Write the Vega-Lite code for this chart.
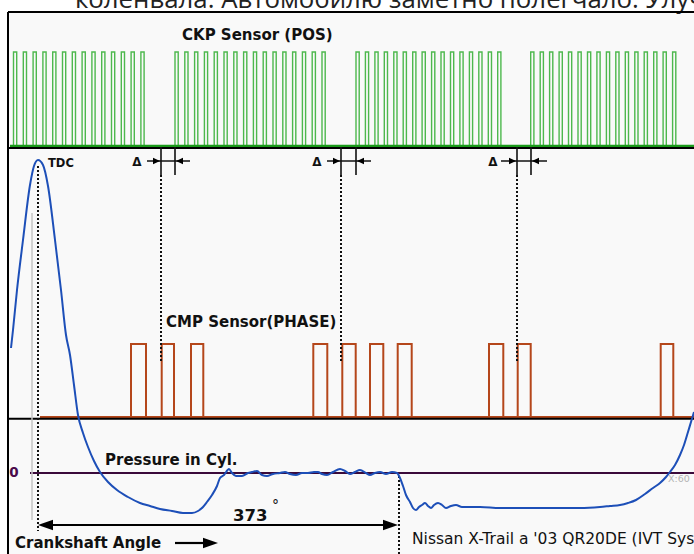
{
  "$schema": "https://vega.github.io/schema/vega-lite/v6.json",
  "width": 694,
  "height": 554,
  "padding": 0,
  "autosize": {"type": "none"},
  "background": "white",
  "config": {"view": {"stroke": null}},
  "encoding": {
    "x": {"field": "x", "type": "quantitative", "scale": {"domain": [0, 694], "nice": false, "zero": false}, "axis": null},
    "y": {"field": "y", "type": "quantitative", "scale": {"domain": [0, 554], "nice": false, "zero": false, "reverse": true}, "axis": null}
  },
  "layer": [
    {
      "data": {"values": [{"x": 8, "x2": 694, "y": 12, "y2": 554}]},
      "mark": {"type": "rect", "fill": "#f9f9f9"},
      "encoding": {"x2": {"field": "x2"}, "y2": {"field": "y2"}}
    },
    {
      "data": {"values": [{"x": 75, "y": 7.5, "t": "коленвала. Автомобилю заметно полегчало. Улучшилась"}]},
      "mark": {"type": "text", "align": "left", "baseline": "alphabetic", "font": "Open Sans", "fontSize": 25.8, "color": "#222222"},
      "encoding": {"text": {"field": "t"}}
    },
    {
      "data": {"values": [
        {"x": 13.5, "x2": 16.7, "y": 52, "y2": 146}, {"x": 23.3, "x2": 26.5, "y": 52, "y2": 146}, {"x": 33.1, "x2": 36.3, "y": 52, "y2": 146}, {"x": 42.9, "x2": 46.1, "y": 52, "y2": 146}, {"x": 52.7, "x2": 55.9, "y": 52, "y2": 146}, {"x": 62.5, "x2": 65.7, "y": 52, "y2": 146}, {"x": 72.3, "x2": 75.5, "y": 52, "y2": 146}, {"x": 82.1, "x2": 85.3, "y": 52, "y2": 146}, {"x": 91.9, "x2": 95.1, "y": 52, "y2": 146}, {"x": 101.7, "x2": 104.9, "y": 52, "y2": 146}, {"x": 111.5, "x2": 114.7, "y": 52, "y2": 146}, {"x": 121.3, "x2": 124.5, "y": 52, "y2": 146}, {"x": 131.1, "x2": 134.3, "y": 52, "y2": 146}, {"x": 140.9, "x2": 144.1, "y": 52, "y2": 146},
        {"x": 175, "x2": 178.2, "y": 52, "y2": 146}, {"x": 184.8, "x2": 188, "y": 52, "y2": 146}, {"x": 194.6, "x2": 197.8, "y": 52, "y2": 146}, {"x": 204.4, "x2": 207.6, "y": 52, "y2": 146}, {"x": 214.2, "x2": 217.4, "y": 52, "y2": 146}, {"x": 224, "x2": 227.2, "y": 52, "y2": 146}, {"x": 233.8, "x2": 237, "y": 52, "y2": 146}, {"x": 243.6, "x2": 246.8, "y": 52, "y2": 146}, {"x": 253.4, "x2": 256.6, "y": 52, "y2": 146}, {"x": 263.2, "x2": 266.4, "y": 52, "y2": 146}, {"x": 273, "x2": 276.2, "y": 52, "y2": 146}, {"x": 282.8, "x2": 286, "y": 52, "y2": 146}, {"x": 292.6, "x2": 295.8, "y": 52, "y2": 146}, {"x": 302.4, "x2": 305.6, "y": 52, "y2": 146}, {"x": 312.2, "x2": 315.4, "y": 52, "y2": 146}, {"x": 322, "x2": 325.2, "y": 52, "y2": 146},
        {"x": 356, "x2": 359.2, "y": 52, "y2": 146}, {"x": 365.4, "x2": 368.6, "y": 52, "y2": 146}, {"x": 374.9, "x2": 378.1, "y": 52, "y2": 146}, {"x": 384.3, "x2": 387.5, "y": 52, "y2": 146}, {"x": 393.8, "x2": 397, "y": 52, "y2": 146}, {"x": 403.2, "x2": 406.4, "y": 52, "y2": 146}, {"x": 412.7, "x2": 415.9, "y": 52, "y2": 146}, {"x": 422.1, "x2": 425.3, "y": 52, "y2": 146}, {"x": 431.6, "x2": 434.8, "y": 52, "y2": 146}, {"x": 441, "x2": 444.2, "y": 52, "y2": 146}, {"x": 450.5, "x2": 453.7, "y": 52, "y2": 146}, {"x": 459.9, "x2": 463.1, "y": 52, "y2": 146}, {"x": 469.4, "x2": 472.6, "y": 52, "y2": 146}, {"x": 478.8, "x2": 482, "y": 52, "y2": 146}, {"x": 488.3, "x2": 491.5, "y": 52, "y2": 146}, {"x": 497.7, "x2": 500.9, "y": 52, "y2": 146},
        {"x": 530.7, "x2": 533.9, "y": 52, "y2": 146}, {"x": 540.2, "x2": 543.4, "y": 52, "y2": 146}, {"x": 549.6, "x2": 552.8, "y": 52, "y2": 146}, {"x": 559.1, "x2": 562.3, "y": 52, "y2": 146}, {"x": 568.5, "x2": 571.7, "y": 52, "y2": 146}, {"x": 578, "x2": 581.2, "y": 52, "y2": 146}, {"x": 587.5, "x2": 590.7, "y": 52, "y2": 146}, {"x": 596.9, "x2": 600.1, "y": 52, "y2": 146}, {"x": 606.4, "x2": 609.6, "y": 52, "y2": 146}, {"x": 615.8, "x2": 619, "y": 52, "y2": 146}, {"x": 625.3, "x2": 628.5, "y": 52, "y2": 146}, {"x": 634.8, "x2": 638, "y": 52, "y2": 146}, {"x": 644.2, "x2": 647.4, "y": 52, "y2": 146}, {"x": 653.7, "x2": 656.9, "y": 52, "y2": 146}, {"x": 663.1, "x2": 666.3, "y": 52, "y2": 146}, {"x": 672.6, "x2": 675.8, "y": 52, "y2": 146}
      ]},
      "mark": {"type": "rect", "fill": "#f9f9f9", "stroke": "#4db84d", "strokeWidth": 1.4},
      "encoding": {"x2": {"field": "x2"}, "y2": {"field": "y2"}}
    },
    {
      "data": {"values": [{"x": 10, "x2": 694, "y": 146, "y2": 146}]},
      "mark": {"type": "rule", "stroke": "#1a9a1a", "strokeWidth": 2.5},
      "encoding": {"x2": {"field": "x2"}, "y2": {"field": "y2"}}
    },
    {
      "data": {"values": [
        {"x": 131, "x2": 146, "y": 344, "y2": 417}, {"x": 161.7, "x2": 174, "y": 344, "y2": 417}, {"x": 191, "x2": 203.3, "y": 344, "y2": 417}, {"x": 313.3, "x2": 327.3, "y": 344, "y2": 417}, {"x": 342.3, "x2": 355.7, "y": 344, "y2": 417},
        {"x": 370, "x2": 383.3, "y": 344, "y2": 417}, {"x": 397.7, "x2": 411.7, "y": 344, "y2": 417}, {"x": 489, "x2": 503.3, "y": 344, "y2": 417}, {"x": 517.7, "x2": 530.7, "y": 344, "y2": 417}, {"x": 660.7, "x2": 673.3, "y": 344, "y2": 417}
      ]},
      "mark": {"type": "rect", "fill": "#f9f9f9", "stroke": "#b5471b", "strokeWidth": 2},
      "encoding": {"x2": {"field": "x2"}, "y2": {"field": "y2"}}
    },
    {
      "data": {"values": [{"x": 40, "x2": 694, "y": 417, "y2": 417}]},
      "mark": {"type": "rule", "stroke": "#b5471b", "strokeWidth": 2},
      "encoding": {"x2": {"field": "x2"}, "y2": {"field": "y2"}}
    },
    {
      "data": {"values": [
        {"x": 8, "x2": 694, "y": 12, "y2": 12},
        {"x": 8, "x2": 8, "y": 12, "y2": 554},
        {"x": 8, "x2": 694, "y": 148, "y2": 148},
        {"x": 8, "x2": 694, "y": 418.7, "y2": 418.7}
      ]},
      "mark": {"type": "rule", "stroke": "#000000", "strokeWidth": 2},
      "encoding": {"x2": {"field": "x2"}, "y2": {"field": "y2"}}
    },
    {
      "data": {"values": [{"x": 30, "x2": 694, "y": 473, "y2": 473}]},
      "mark": {"type": "rule", "stroke": "#3a0a3a", "strokeWidth": 2},
      "encoding": {"x2": {"field": "x2"}, "y2": {"field": "y2"}}
    },
    {
      "data": {"values": [{"x": 32, "x2": 32, "y": 213, "y2": 520}]},
      "mark": {"type": "rule", "stroke": "#c4c4c4", "strokeWidth": 1.5},
      "encoding": {"x2": {"field": "x2"}, "y2": {"field": "y2"}}
    },
    {
      "data": {"values": [
        {"x": 161, "x2": 161, "y": 147, "y2": 175}, {"x": 175, "x2": 175, "y": 147, "y2": 175},
        {"x": 341, "x2": 341, "y": 147, "y2": 175}, {"x": 356, "x2": 356, "y": 147, "y2": 175},
        {"x": 517, "x2": 517, "y": 147, "y2": 175}, {"x": 531, "x2": 531, "y": 147, "y2": 175},
        {"x": 147, "x2": 190, "y": 161, "y2": 161}, {"x": 327, "x2": 371, "y": 161, "y2": 161}, {"x": 501, "x2": 547, "y": 161, "y2": 161}
      ]},
      "mark": {"type": "rule", "stroke": "#111111", "strokeWidth": 1.6},
      "encoding": {"x2": {"field": "x2"}, "y2": {"field": "y2"}}
    },
    {
      "data": {"values": [
        {"x": 38, "x2": 38, "y": 166, "y2": 531},
        {"x": 161, "x2": 161, "y": 175, "y2": 363},
        {"x": 341, "x2": 341, "y": 175, "y2": 363},
        {"x": 517, "x2": 517, "y": 175, "y2": 362},
        {"x": 399, "x2": 399, "y": 476, "y2": 554}
      ]},
      "mark": {"type": "rule", "stroke": "#111111", "strokeWidth": 2, "strokeDash": [2, 2]},
      "encoding": {"x2": {"field": "x2"}, "y2": {"field": "y2"}}
    },
    {
      "data": {"values": [{"x": 45, "x2": 390, "y": 525, "y2": 525}, {"x": 175, "x2": 205, "y": 543, "y2": 543}]},
      "mark": {"type": "rule", "stroke": "#000000", "strokeWidth": 2.2},
      "encoding": {"x2": {"field": "x2"}, "y2": {"field": "y2"}}
    },
    {
      "data": {"values": [{"x": 160, "y": 161}, {"x": 340, "y": 161}, {"x": 516, "y": 161}]},
      "mark": {"type": "point", "shape": "M0,0L-1,-0.45L-1,0.45Z", "size": 196, "filled": true, "color": "#000000", "opacity": 1}
    },
    {
      "data": {"values": [{"x": 176, "y": 161}, {"x": 357, "y": 161}, {"x": 532, "y": 161}]},
      "mark": {"type": "point", "shape": "M0,0L1,-0.45L1,0.45Z", "size": 196, "filled": true, "color": "#000000", "opacity": 1}
    },
    {
      "data": {"values": [{"x": 38, "y": 525}]},
      "mark": {"type": "point", "shape": "M0,0L1,-0.35L1,0.35Z", "size": 900, "filled": true, "color": "#000000", "opacity": 1}
    },
    {
      "data": {"values": [{"x": 398, "y": 525}, {"x": 218, "y": 543}]},
      "mark": {"type": "point", "shape": "M0,0L-1,-0.35L-1,0.35Z", "size": 900, "filled": true, "color": "#000000", "opacity": 1}
    },
    {
      "data": {"values": [
        {"x": 11, "y": 348}, {"x": 13, "y": 330}, {"x": 17, "y": 290}, {"x": 23, "y": 240}, {"x": 30, "y": 185}, {"x": 34, "y": 166}, {"x": 38, "y": 160}, {"x": 43, "y": 165}, {"x": 48, "y": 186}, {"x": 55, "y": 240}, {"x": 61, "y": 290}, {"x": 66, "y": 335},
        {"x": 70, "y": 355}, {"x": 74, "y": 385}, {"x": 78, "y": 415}, {"x": 83, "y": 433}, {"x": 88, "y": 447}, {"x": 94, "y": 461}, {"x": 100, "y": 472}, {"x": 108, "y": 482}, {"x": 117, "y": 490}, {"x": 128, "y": 497}, {"x": 140, "y": 503}, {"x": 150, "y": 506},
        {"x": 160, "y": 509}, {"x": 172, "y": 511}, {"x": 183, "y": 513}, {"x": 192, "y": 513}, {"x": 198, "y": 511}, {"x": 203, "y": 507}, {"x": 207, "y": 502}, {"x": 212, "y": 495}, {"x": 217, "y": 486}, {"x": 220, "y": 478}, {"x": 224, "y": 475}, {"x": 229, "y": 469},
        {"x": 232, "y": 473}, {"x": 236, "y": 476}, {"x": 242, "y": 476}, {"x": 248, "y": 473}, {"x": 252, "y": 472}, {"x": 257, "y": 471}, {"x": 262, "y": 475}, {"x": 267, "y": 476}, {"x": 273, "y": 474}, {"x": 280, "y": 473}, {"x": 285, "y": 472}, {"x": 290, "y": 474},
        {"x": 296, "y": 475}, {"x": 302, "y": 473}, {"x": 308, "y": 473}, {"x": 314, "y": 472}, {"x": 318, "y": 472}, {"x": 322, "y": 474}, {"x": 327, "y": 475}, {"x": 333, "y": 472}, {"x": 340, "y": 469}, {"x": 345, "y": 471}, {"x": 350, "y": 474}, {"x": 355, "y": 472},
        {"x": 360, "y": 470}, {"x": 366, "y": 473}, {"x": 370, "y": 475}, {"x": 375, "y": 473}, {"x": 380, "y": 472}, {"x": 386, "y": 474}, {"x": 392, "y": 472}, {"x": 397, "y": 473}, {"x": 400, "y": 478}, {"x": 403, "y": 486}, {"x": 406, "y": 495}, {"x": 410, "y": 502},
        {"x": 413, "y": 508}, {"x": 416, "y": 510}, {"x": 419, "y": 507}, {"x": 422, "y": 505}, {"x": 425, "y": 503}, {"x": 428, "y": 506}, {"x": 431, "y": 508}, {"x": 434, "y": 505}, {"x": 438, "y": 503}, {"x": 442, "y": 505}, {"x": 446, "y": 508}, {"x": 451, "y": 506},
        {"x": 456, "y": 505}, {"x": 462, "y": 507}, {"x": 470, "y": 507}, {"x": 480, "y": 507}, {"x": 500, "y": 508}, {"x": 520, "y": 508}, {"x": 540, "y": 508}, {"x": 560, "y": 508}, {"x": 580, "y": 508}, {"x": 600, "y": 507}, {"x": 610, "y": 506}, {"x": 620, "y": 505},
        {"x": 628, "y": 503}, {"x": 636, "y": 500}, {"x": 645, "y": 494}, {"x": 653, "y": 488}, {"x": 660, "y": 483}, {"x": 666, "y": 477}, {"x": 670, "y": 472}, {"x": 675, "y": 465}, {"x": 680, "y": 455}, {"x": 684, "y": 445}, {"x": 688, "y": 432}, {"x": 691, "y": 422}, {"x": 694, "y": 412}
      ]},
      "mark": {"type": "line", "stroke": "#1d4fb8", "strokeWidth": 2, "interpolate": "monotone"},
      "encoding": {"order": {"value": null}}
    },
    {
      "data": {"values": [
        {"x": 182, "y": 35, "t": "CKP Sensor (POS)"},
        {"x": 166, "y": 322, "t": "CMP Sensor(PHASE)"},
        {"x": 105, "y": 460, "t": "Pressure in Cyl."},
        {"x": 15, "y": 543, "t": "Crankshaft Angle"}
      ]},
      "mark": {"type": "text", "align": "left", "baseline": "middle", "font": "DejaVu Sans", "fontWeight": "bold", "fontSize": 15, "color": "#111111"},
      "encoding": {"text": {"field": "t"}}
    },
    {
      "data": {"values": [{"x": 233, "y": 516, "t": "373"}]},
      "mark": {"type": "text", "align": "left", "baseline": "middle", "font": "DejaVu Sans", "fontWeight": "bold", "fontSize": 16.5, "color": "#111111"},
      "encoding": {"text": {"field": "t"}}
    },
    {
      "data": {"values": [{"x": 272, "y": 506, "t": "°"}]},
      "mark": {"type": "text", "align": "left", "baseline": "middle", "font": "DejaVu Sans", "fontSize": 14, "color": "#111111"},
      "encoding": {"text": {"field": "t"}}
    },
    {
      "data": {"values": [{"x": 48, "y": 164, "t": "TDC"}]},
      "mark": {"type": "text", "align": "left", "baseline": "middle", "font": "DejaVu Sans", "fontWeight": "bold", "fontSize": 11.5, "color": "#111111"},
      "encoding": {"text": {"field": "t"}}
    },
    {
      "data": {"values": [{"x": 137, "y": 162, "t": "Δ"}, {"x": 317, "y": 162, "t": "Δ"}, {"x": 493, "y": 162, "t": "Δ"}]},
      "mark": {"type": "text", "align": "center", "baseline": "middle", "font": "DejaVu Sans", "fontWeight": "bold", "fontSize": 12, "color": "#111111"},
      "encoding": {"text": {"field": "t"}}
    },
    {
      "data": {"values": [{"x": 14, "y": 473, "t": "0"}]},
      "mark": {"type": "text", "align": "center", "baseline": "middle", "font": "DejaVu Sans", "fontWeight": "bold", "fontSize": 13.5, "color": "#4a0a4a"},
      "encoding": {"text": {"field": "t"}}
    },
    {
      "data": {"values": [{"x": 668, "y": 479, "t": "X:60"}]},
      "mark": {"type": "text", "align": "left", "baseline": "middle", "font": "DejaVu Sans", "fontSize": 9.5, "color": "#b4b4b4"},
      "encoding": {"text": {"field": "t"}}
    },
    {
      "data": {"values": [{"x": 412, "y": 539, "t": "Nissan X-Trail a '03 QR20DE (IVT System)"}]},
      "mark": {"type": "text", "align": "left", "baseline": "middle", "font": "DejaVu Sans", "fontSize": 15.5, "color": "#111111"},
      "encoding": {"text": {"field": "t"}}
    }
  ]
}
